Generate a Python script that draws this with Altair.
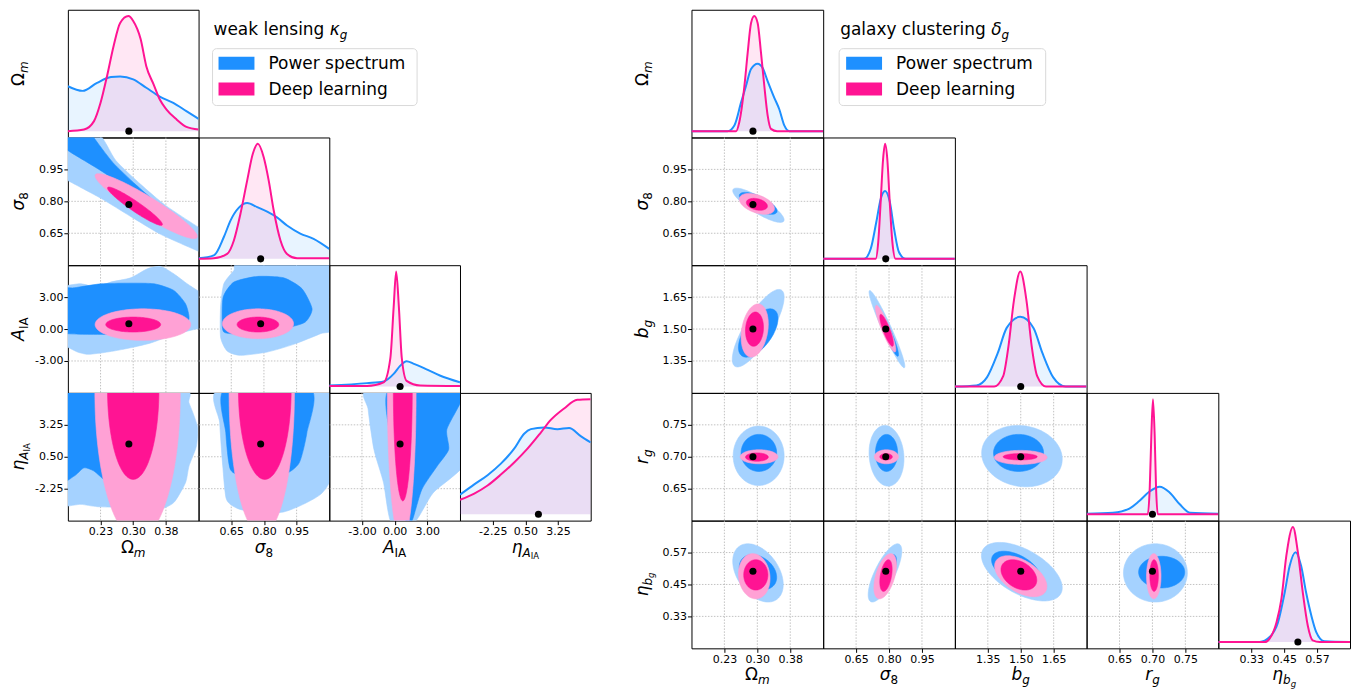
import numpy as np
import pandas as pd
import altair as alt

FONT = "DejaVu Sans"
BLUE = "#1E90FF"
BLUE_LIGHT = "#A5D2FF"
PINK = "#FF1493"
PINK_LIGHT = "#FFA1D5"
SERIES = ["Power spectrum", "Deep learning"]
SERIES_COLORS = [BLUE, PINK]
LEFT_TITLE = ["weak lensing ", "κ", "g"]
RIGHT_TITLE = ["galaxy clustering ", "δ", "g"]

# ---------------- left corner: weak lensing ----------------
L_PARAMS = ["Om", "s8", "AIA", "eta"]
L_DOMAIN = {"Om": [0.15, 0.45], "s8": [0.5, 1.1], "AIA": [-6.0, 6.0], "eta": [-5.0, 6.0]}
L_TICKS = {"Om": [0.225, 0.30, 0.375], "s8": [0.65, 0.80, 0.95],
           "AIA": [-3.0, 0.0, 3.0], "eta": [-2.25, 0.5, 3.25]}
L_TRUTH = {"Om": 0.29, "s8": 0.785, "AIA": 0.5, "eta": 1.6}

L_DIAG_PS = {
    "Om": ([0.15, 0.184, 0.217, 0.249, 0.27, 0.30, 0.33, 0.361, 0.392, 0.422, 0.45],
           [0.39, 0.35, 0.42, 0.47, 0.475, 0.45, 0.377, 0.30, 0.246, 0.174, 0.107]),
    "s8": ([0.5, 0.57, 0.616, 0.647, 0.685, 0.723, 0.769, 0.815, 0.86, 0.906, 0.967, 1.028, 1.1],
           [0.005, 0.03, 0.19, 0.335, 0.445, 0.485, 0.45, 0.41, 0.36, 0.29, 0.22, 0.174, 0.087]),
    "AIA": ([-6.0, -2.54, -1.0, -0.09, 0.5, 1.1, 1.71, 2.93, 4.15, 6.0],
            [0.01, 0.03, 0.045, 0.11, 0.18, 0.22, 0.2, 0.15, 0.096, 0.037]),
    "eta": ([-5.0, -3.8, -2.68, -1.56, -0.44, 0.4, 0.96, 2.08, 3.2, 4.18, 5.16, 6.0],
            [0.17, 0.26, 0.34, 0.44, 0.57, 0.70, 0.74, 0.755, 0.74, 0.75, 0.68, 0.625]),
}
L_DIAG_DL = {
    "Om": ([0.15, 0.187, 0.21, 0.225, 0.24, 0.255, 0.27, 0.289, 0.30, 0.317, 0.33, 0.347, 0.361, 0.376, 0.40, 0.422, 0.45],
           [0.0, 0.014, 0.087, 0.246, 0.48, 0.74, 0.94, 1.0, 0.957, 0.8, 0.565, 0.405, 0.275, 0.19, 0.10, 0.037, 0.014]),
    "s8": ([0.5, 0.57, 0.631, 0.662, 0.692, 0.723, 0.749, 0.772, 0.799, 0.822, 0.845, 0.876, 0.906, 0.952, 1.1],
           [0.0, 0.005, 0.043, 0.16, 0.39, 0.68, 0.913, 1.0, 0.883, 0.68, 0.42, 0.16, 0.043, 0.005, 0.005]),
    "AIA": ([-6.0, -2.54, -1.01, -0.39, -0.09, 0.14, 0.39, 0.65, 1.1, 2.34, 6.0],
            [0.005, 0.005, 0.037, 0.25, 0.69, 1.0, 0.69, 0.255, 0.05, 0.01, 0.005]),
    "eta": ([-5.0, -3.8, -2.68, -1.56, -0.44, 0.68, 1.8, 2.64, 3.76, 4.87, 6.0],
            [0.126, 0.18, 0.25, 0.345, 0.45, 0.57, 0.71, 0.82, 0.92, 0.995, 1.0]),
}

# Power-spectrum contours (irregular): outline vertices (col value, row value)
L_PS_95 = {
    ("s8", "Om"): [(0.111, 1.17), (0.215, 1.13), (0.26, 0.992), (0.317, 0.880), (0.374, 0.781), (0.45, 0.678),
                   (0.466, 0.664), (0.466, 0.547), (0.45, 0.565), (0.363, 0.645), (0.294, 0.729), (0.226, 0.814),
                   (0.15, 0.898), (0.122, 0.936)],
    ("AIA", "Om"): [(0.134, 3.94), (0.149, 4.09), (0.180, 4.25), (0.218, 3.94), (0.248, 4.41), (0.294, 4.81),
                    (0.3325, 5.66), (0.363, 5.88), (0.393, 5.19), (0.424, 4.25), (0.447, 3.63), (0.462, 3.31),
                    (0.462, 0.19), (0.447, 0.03), (0.416, -0.28), (0.378, -0.75), (0.340, -1.31), (0.302, -1.69),
                    (0.264, -2.0), (0.226, -2.25), (0.195, -2.37), (0.172, -2.16), (0.149, -1.69), (0.134, -1.53)],
    ("AIA", "s8"): [(0.601, 2.06), (0.616, 4.25), (0.662, 5.5), (0.692, 6.28), (1.059, 6.28), (1.12, 5.81),
                    (1.12, 0.19), (1.059, -0.44), (0.936, -1.44), (0.815, -2.16), (0.692, -2.47), (0.631, -2.06),
                    (0.601, -0.75)],
    ("eta", "Om"): [(0.134, 6.28), (0.4125, 6.28), (0.428, 5.14), (0.447, 3.14), (0.445, 1.42), (0.428, -0.3),
                    (0.420, -1.73), (0.393, -3.45), (0.355, -4.08), (0.287, -3.88), (0.218, -3.80), (0.180, -3.6),
                    (0.151, -3.74), (0.134, -3.74)],
    ("eta", "s8"): [(0.593, 6.28), (1.121, 6.28), (1.12, -0.59), (1.068, -2.6), (0.98, -3.6), (0.891, -4.25),
                    (0.785, -4.37), (0.681, -3.97), (0.628, -3.17), (0.611, -0.30), (0.597, 3.42)],
    ("eta", "AIA"): [(-2.43, 6.28), (6.73, 6.28), (6.73, 0.27), (3.55, -2.59), (1.80, -5.17), (-0.31, -5.17),
                     (-1.02, -1.73), (-1.9, 1.13), (-2.43, 4.57)],
}
L_PS_68 = {
    ("s8", "Om"): [(0.160, 1.125), (0.205, 1.125), (0.2095, 1.10), (0.253, 0.983), (0.305, 0.880),
                   (0.351, 0.796), (0.376, 0.740), (0.363, 0.692), (0.294, 0.772), (0.248, 0.912),
                   (0.15, 1.039), (0.14, 1.08)],
    ("AIA", "Om"): [(0.134, 3.63), (0.1645, 3.87), (0.226, 4.25), (0.287, 4.31), (0.348, 4.25), (0.393, 3.63),
                    (0.420, 2.37), (0.428, 0.97), (0.409, 0.03), (0.340, -0.38), (0.264, -0.5), (0.195, -0.5),
                    (0.149, -0.44), (0.134, -0.38)],
    ("AIA", "s8"): [(0.6085, 0.5), (0.613, 3.0), (0.662, 4.41), (0.769, 4.94), (0.891, 4.81), (0.975, 3.78),
                    (1.021, 1.9), (0.990, 0.66), (0.906, 0.12), (0.784, -0.19), (0.662, -0.44), (0.616, -0.28)],
    ("eta", "Om"): [(0.134, 6.28), (0.29, 6.28), (0.29, 1.0), (0.26, -1.55), (0.233, -1.45), (0.210, -0.73),
                    (0.187, -0.45), (0.1645, -1.16), (0.134, -1.3)],
    ("eta", "s8"): [(0.620, 6.28), (1.015, 6.28), (0.997, 2.56), (0.962, -0.02), (0.891, -1.02), (0.716, -1.16),
                    (0.646, -0.59), (0.625, 2.56)],
    ("eta", "AIA"): [(-0.49, 6.28), (6.02, 6.28), (6.02, 5.14), (4.79, 2.85), (4.96, 1.13), (3.91, -0.30),
                     (2.5, -2.31), (1.62, -4.97), (1.1, -5.17), (0.05, -1.73), (-0.49, 2.56)],
}
# Deep-learning contours: extent (x_lo, x_hi, y_lo, y_hi) and tilt (correlation)
L_DL_95 = {
    ("s8", "Om"): (0.2125, 0.447, 0.625, 0.930, -0.935),
    ("AIA", "Om"): (0.2125, 0.432, -1.06, 1.90, 0.0),
    ("AIA", "s8"): (0.609, 0.936, -0.9, 1.9, 0.0),
    ("eta", "Om"): (0.212, 0.408, -6.57, 18.57, 0.0),
    ("eta", "s8"): (0.64, 0.94, -6.2, 18.2, 0.0),
    ("eta", "AIA"): (-0.67, 1.97, -6.9, 18.9, 0.0),
}
L_DL_68 = {
    ("s8", "Om"): (0.241, 0.367, 0.687, 0.867, -0.95),
    ("AIA", "Om"): (0.237, 0.363, -0.28, 1.125, 0.0),
    ("AIA", "s8"): (0.677, 0.868, -0.28, 1.125, 0.0),
    ("eta", "Om"): (0.241, 0.359, -1.45, 14.05, 0.0),
    ("eta", "s8"): (0.683, 0.925, -1.45, 14.05, 0.0),
    ("eta", "AIA"): (-0.12, 1.62, -3.3, 16.3, 0.0),
}

# ---------------- right corner: galaxy clustering ----------------
R_PARAMS = ["Om", "s8", "bg", "rg", "eta"]
R_DOMAIN = {"Om": [0.15, 0.45], "s8": [0.5, 1.1], "bg": [1.2, 1.8], "rg": [0.6, 0.8], "eta": [0.21, 0.69]}
R_TICKS = {"Om": [0.225, 0.30, 0.375], "s8": [0.65, 0.80, 0.95], "bg": [1.35, 1.50, 1.65],
           "rg": [0.65, 0.70, 0.75], "eta": [0.33, 0.45, 0.57]}
R_TRUTH = {"Om": 0.29, "s8": 0.785, "bg": 1.5, "rg": 0.70, "eta": 0.5}

R_DIAG_PS = {
    "Om": ([0.15, 0.232, 0.2477, 0.263, 0.274, 0.2857, 0.3007, 0.312, 0.323, 0.3387, 0.35, 0.3614, 0.373, 0.45],
           [0.0, 0.0, 0.05, 0.25, 0.39, 0.54, 0.586, 0.55, 0.44, 0.29, 0.19, 0.05, 0.0, 0.0]),
    "s8": ([0.5, 0.686, 0.717, 0.742, 0.762, 0.782, 0.803, 0.823, 0.845, 0.876, 1.1],
           [0.0, 0.0, 0.09, 0.32, 0.52, 0.59, 0.50, 0.26, 0.06, 0.0, 0.0]),
    "bg": ([1.2, 1.298, 1.346, 1.395, 1.436, 1.498, 1.558, 1.599, 1.648, 1.705, 1.8],
           [0.0, 0.01, 0.08, 0.29, 0.51, 0.606, 0.51, 0.29, 0.08, 0.0, 0.0]),
    "rg": ([0.6, 0.64, 0.665, 0.680, 0.696, 0.711, 0.726, 0.7415, 0.757, 0.8],
           [0.005, 0.014, 0.05, 0.115, 0.2, 0.24, 0.19, 0.087, 0.014, 0.005]),
    "eta": ([0.21, 0.361, 0.397, 0.4275, 0.452, 0.47, 0.4917, 0.512, 0.53, 0.549, 0.567, 0.597, 0.69],
            [0.0, 0.0, 0.043, 0.17, 0.43, 0.66, 0.78, 0.66, 0.43, 0.23, 0.086, 0.006, 0.0]),
}
R_DIAG_DL = {
    "Om": ([0.15, 0.2516, 0.259, 0.2705, 0.278, 0.2857, 0.293, 0.3007, 0.3084, 0.316, 0.3234, 0.331, 0.345, 0.45],
           [0.0, 0.0, 0.08, 0.39, 0.68, 0.94, 1.0, 0.94, 0.68, 0.39, 0.14, 0.02, 0.0, 0.0]),
    "s8": ([0.5, 0.739, 0.751, 0.762, 0.773, 0.782, 0.792, 0.803, 0.815, 0.83, 1.1],
           [0.0, 0.0, 0.15, 0.5, 0.87, 1.0, 0.87, 0.5, 0.15, 0.0, 0.0]),
    "bg": ([1.2, 1.379, 1.42, 1.444, 1.469, 1.498, 1.526, 1.55, 1.575, 1.615, 1.8],
           [0.0, 0.0, 0.09, 0.35, 0.75, 1.0, 0.75, 0.35, 0.09, 0.0, 0.0]),
    "rg": ([0.6, 0.693, 0.696, 0.6983, 0.7008, 0.7034, 0.7054, 0.708, 0.8],
           [0.0, 0.0, 0.245, 0.68, 1.0, 0.68, 0.245, 0.0, 0.0]),
    "eta": ([0.21, 0.379, 0.397, 0.422, 0.44, 0.458, 0.482, 0.50, 0.518, 0.536, 0.554, 0.58, 0.69],
            [0.0, 0.0, 0.03, 0.17, 0.375, 0.75, 1.0, 0.78, 0.43, 0.144, 0.015, 0.0, 0.0]),
}
R_PS_95 = {
    ("s8", "Om"): (0.244, 0.361, 0.701, 0.862, -0.85),
    ("bg", "Om"): (0.243, 0.361, 1.322, 1.686, 0.8),
    ("bg", "s8"): (0.709, 0.872, 1.318, 1.681, -0.96),
    ("rg", "Om"): (0.245, 0.361, 0.655, 0.748, 0.0),
    ("rg", "s8"): (0.709, 0.868, 0.654, 0.749, -0.1),
    ("rg", "bg"): (1.322, 1.689, 0.653, 0.749, -0.1),
    ("eta", "Om"): (0.244, 0.359, 0.384, 0.603, -0.4),
    ("eta", "s8"): (0.705, 0.858, 0.384, 0.603, 0.75),
    ("eta", "bg"): (1.321, 1.689, 0.388, 0.608, -0.55),
    ("eta", "rg"): (0.656, 0.753, 0.384, 0.603, 0.0),
}
R_PS_68 = {
    ("s8", "Om"): (0.259, 0.345, 0.739, 0.842, -0.7),
    ("bg", "Om"): (0.257, 0.347, 1.368, 1.595, 0.6),
    ("bg", "s8"): (0.750, 0.843, 1.372, 1.588, -0.93),
    ("rg", "Om"): (0.263, 0.344, 0.677, 0.735, 0.0),
    ("rg", "s8"): (0.738, 0.839, 0.677, 0.735, 0.0),
    ("rg", "bg"): (1.376, 1.604, 0.677, 0.735, 0.0),
    ("eta", "Om"): (0.259, 0.344, 0.431, 0.562, -0.3),
    ("eta", "s8"): (0.735, 0.834, 0.42, 0.562, 0.7),
    ("eta", "bg"): (1.367, 1.589, 0.444, 0.575, -0.5),
    ("eta", "rg"): (0.679, 0.749, 0.437, 0.556, 0.0),
}
R_DL_95 = {
    ("s8", "Om"): (0.259, 0.339, 0.739, 0.837, -0.45),
    ("bg", "Om"): (0.263, 0.325, 1.368, 1.618, 0.25),
    ("bg", "s8"): (0.738, 0.831, 1.392, 1.611, -0.9),
    ("rg", "Om"): (0.261, 0.347, 0.689, 0.711, 0.0),
    ("rg", "s8"): (0.733, 0.843, 0.689, 0.711, 0.0),
    ("rg", "bg"): (1.379, 1.620, 0.688, 0.710, 0.0),
    ("eta", "Om"): (0.257, 0.329, 0.396, 0.566, -0.1),
    ("eta", "s8"): (0.731, 0.834, 0.396, 0.566, 0.5),
    ("eta", "bg"): (1.381, 1.619, 0.404, 0.558, -0.5),
    ("eta", "rg"): (0.691, 0.713, 0.396, 0.566, 0.0),
}
R_DL_68 = {
    ("s8", "Om"): (0.275, 0.323, 0.758, 0.814, -0.3),
    ("bg", "Om"): (0.273, 0.314, 1.419, 1.58, 0.1),
    ("bg", "s8"): (0.758, 0.820, 1.419, 1.569, -0.85),
    ("rg", "Om"): (0.273, 0.325, 0.693, 0.706, 0.0),
    ("rg", "s8"): (0.758, 0.815, 0.695, 0.705, 0.0),
    ("rg", "bg"): (1.42, 1.575, 0.695, 0.705, 0.0),
    ("eta", "Om"): (0.269, 0.324, 0.429, 0.543, 0.0),
    ("eta", "s8"): (0.758, 0.814, 0.424, 0.543, 0.4),
    ("eta", "bg"): (1.41, 1.573, 0.429, 0.543, -0.35),
    ("eta", "rg"): (0.696, 0.709, 0.424, 0.543, 0.0),
}

# axis label pieces: (text, font size, italic, baseline shift)
L_LABELS = {
    "Om": [("Ω", 17, False, 0), ("m", 12, True, 4)],
    "s8": [("σ", 17, True, 0), ("8", 12, False, 4)],
    "AIA": [("A", 17, True, 0), ("IA", 12, False, 4)],
    "eta": [("η", 17, True, 0), ("A", 12, True, 4), ("IA", 8.5, False, 6.5)],
}
R_LABELS = {
    "Om": [("Ω", 17, False, 0), ("m", 12, True, 4)],
    "s8": [("σ", 17, True, 0), ("8", 12, False, 4)],
    "bg": [("b", 17, True, 0), ("g", 12, True, 4)],
    "rg": [("r", 17, True, 0), ("g", 12, True, 4)],
    "eta": [("η", 17, True, 0), ("b", 12, True, 4), ("g", 8.5, True, 6.5)],
}

# ---------------- helpers ----------------
H = 128
W_L, W_R, GAP = 131, 132, 101
DIAG_DOMAIN = [-0.055, 1.055]
DUMMY = pd.DataFrame({"d": [0]})
CW = {" ": .318, "a": .613, "b": .635, "c": .550, "d": .635, "e": .615, "g": .635, "i": .278, "k": .579,
      "l": .278, "m": .974, "n": .634, "o": .612, "p": .635, "r": .411, "s": .521, "t": .392, "u": .634,
      "w": .818, "x": .592, "y": .592, "z": .525, "A": .684, "D": .770, "I": .295, "L": .557, "P": .603,
      "8": .636, "Ω": .764, "σ": .634, "η": .634, "κ": .580, "δ": .612}
NOFRAME = alt.ViewBackground(stroke="transparent")


def tw(s, size):
    return sum(CW.get(c, 0.6) for c in s) * size


def text_layer(t, size, italic, x, y, angle=0, baseline="alphabetic"):
    kw = dict(text=t, font=FONT, fontSize=size, align="left", baseline=baseline, color="black")
    if italic:
        kw["fontStyle"] = "italic"
    if angle:
        kw["angle"] = angle
    return alt.Chart(DUMMY).mark_text(**kw).encode(x=alt.value(x), y=alt.value(y))


def htitle(pieces, cx, base_y):
    total = sum(tw(t, s) for t, s, _, _ in pieces)
    x = cx - total / 2
    out = []
    for t, s, it, sh in pieces:
        out.append(text_layer(t, s, it, x, base_y + sh))
        x += tw(t, s)
    return out


def vtitle(pieces, base_x, cy):
    total = sum(tw(t, s) for t, s, _, _ in pieces)
    y = cy + total / 2
    out = []
    for t, s, it, sh in pieces:
        out.append(text_layer(t, s, it, base_x + sh, y, angle=270))
        y -= tw(t, s)
    return out


def make_axis(ticks):
    return alt.Axis(values=ticks, labelExpr="replace(format(datum.value, '.2f'), '\u2212', '-')",
                    title=None, grid=False, domain=False, ticks=True, tickSize=4, tickColor="black",
                    labelFont=FONT, labelFontSize=11, labelColor="black", labelPadding=1,
                    labelFlush=False, labelOverlap=False)


def ellipse_df(box, n=120):
    xlo, xhi, ylo, yhi, rho = box
    cx, cy = (xlo + xhi) / 2, (ylo + yhi) / 2
    sx, sy = (xhi - xlo) / 2, (yhi - ylo) / 2
    t = np.linspace(0, 2 * np.pi, n, endpoint=False)
    return pd.DataFrame({"x": cx + sx * np.cos(t),
                         "y": cy + sy * (rho * np.cos(t) + np.sqrt(1 - rho ** 2) * np.sin(t)),
                         "i": np.arange(n)})


def poly_df(pts):
    return pd.DataFrame({"x": [p[0] for p in pts], "y": [p[1] for p in pts], "i": list(range(len(pts)))})


def shape_layer(df, color, X, Y, interp):
    kw = dict(fill=color, stroke=color, strokeWidth=0.6, interpolate=interp, clip=True)
    if interp.startswith("cardinal"):
        kw["tension"] = 0.35
    return alt.Chart(df).mark_line(**kw).encode(x=X, y=Y, order=alt.Order("i:Q"))


def panel(i, j, params, dom, ticks, truth, labels, W, dps, ddl, c95, c68, d95, d68, poly):
    n = len(params)
    rp, cp = params[i], params[j]
    xs = alt.Scale(domain=dom[cp], nice=False, zero=False)
    xaxis = make_axis(ticks[cp]) if i == n - 1 else None
    layers = []
    if i == j:
        ys = alt.Scale(domain=DIAG_DOMAIN, nice=False, zero=False)
        X = alt.X("x:Q", scale=xs, axis=xaxis)
        Y = alt.Y("y:Q", scale=ys, axis=None)
        curves = [(dps[cp], BLUE), (ddl[cp], PINK)]
        for (xv, yv), col in curves:
            df = pd.DataFrame({"x": xv, "y": yv})
            layers.append(alt.Chart(df).mark_area(color=col, opacity=0.1, interpolate="monotone", clip=True)
                          .encode(x=X, y=Y, y2=alt.datum(0)))
        for (xv, yv), col in curves:
            df = pd.DataFrame({"x": xv, "y": yv})
            layers.append(alt.Chart(df).mark_line(color=col, strokeWidth=2, interpolate="monotone", clip=True)
                          .encode(x=X, y=Y))
        dot = pd.DataFrame({"x": [truth[cp]], "y": [0.0]})
    else:
        ys = alt.Scale(domain=dom[rp], nice=False, zero=False)
        yaxis = make_axis(ticks[rp]) if j == 0 else None
        X = alt.X("x:Q", scale=xs, axis=xaxis)
        Y = alt.Y("y:Q", scale=ys, axis=yaxis)
        grid_style = dict(color="#b3b3b3", strokeWidth=0.8, strokeDash=[1.5, 1.5])
        layers.append(alt.Chart(pd.DataFrame({"x": ticks[cp]})).mark_rule(**grid_style).encode(x=X))
        layers.append(alt.Chart(pd.DataFrame({"y": ticks[rp]})).mark_rule(**grid_style).encode(y=Y))
        key = (rp, cp)
        if poly:
            layers.append(shape_layer(poly_df(c95[key]), BLUE_LIGHT, X, Y, "cardinal-closed"))
            layers.append(shape_layer(poly_df(c68[key]), BLUE, X, Y, "cardinal-closed"))
        else:
            layers.append(shape_layer(ellipse_df(c95[key]), BLUE_LIGHT, X, Y, "linear-closed"))
            layers.append(shape_layer(ellipse_df(c68[key]), BLUE, X, Y, "linear-closed"))
        layers.append(shape_layer(ellipse_df(d95[key]), PINK_LIGHT, X, Y, "linear-closed"))
        layers.append(shape_layer(ellipse_df(d68[key]), PINK, X, Y, "linear-closed"))
        dot = pd.DataFrame({"x": [truth[cp]], "y": [truth[rp]]})
    layers.append(alt.Chart(dot).mark_circle(size=50, color="black", opacity=1).encode(x=X, y=Y))
    if j == 0:
        layers += vtitle(labels[rp], -44, H / 2)
    if i == n - 1:
        layers += htitle(labels[cp], W / 2, H + 32)
    return alt.layer(*layers).properties(width=W, height=H)


def legend_chart(title_parts, frame, patch_x, text_x, title_x, W):
    layers = []
    x = title_x
    for t, s, it, sh in [(title_parts[0], 17, False, 0), (title_parts[1], 17, True, 0),
                         (title_parts[2], 12, True, 4)]:
        layers.append(text_layer(t, s, it, x, 25 + sh))
        x += tw(t, s)
    layers.append(alt.Chart(DUMMY).mark_rect(fill="white", stroke="#d9d9d9", strokeWidth=1, cornerRadius=4)
                  .encode(x=alt.value(frame[0]), x2=alt.value(frame[1]),
                          y=alt.value(frame[2]), y2=alt.value(frame[3])))
    for k, (name, col) in enumerate(zip(SERIES, SERIES_COLORS)):
        y0 = 47 + 26 * k
        layers.append(alt.Chart(DUMMY).mark_rect(fill=col)
                      .encode(x=alt.value(patch_x), x2=alt.value(patch_x + 36),
                              y=alt.value(y0), y2=alt.value(y0 + 13)))
        layers.append(text_layer(name, 17, False, text_x, y0 + 7, baseline="middle"))
    return alt.layer(*layers).properties(width=W, height=H, view=NOFRAME)


def blank(W):
    return (alt.Chart(DUMMY).mark_point(opacity=0, size=1).encode(x=alt.value(W / 2), y=alt.value(H / 2))
            .properties(width=W, height=H, view=NOFRAME))


left_legend = legend_chart(LEFT_TITLE, (14, 219, 39, 96), 20, 70, 15, W_L)
right_legend = legend_chart(RIGHT_TITLE, (16, 223, 39, 96), 23, 73, 17, W_R)

NL, NR = len(L_PARAMS), len(R_PARAMS)
cells = []
for i in range(NR):
    for j in range(NL):
        if i < NL and j <= i:
            cells.append(panel(i, j, L_PARAMS, L_DOMAIN, L_TICKS, L_TRUTH, L_LABELS, W_L, L_DIAG_PS, L_DIAG_DL,
                               L_PS_95, L_PS_68, L_DL_95, L_DL_68, True))
        elif i == 0 and j == 1:
            cells.append(left_legend)
        else:
            cells.append(blank(W_L))
    cells.append(blank(GAP))
    for j in range(NR):
        if j <= i:
            cells.append(panel(i, j, R_PARAMS, R_DOMAIN, R_TICKS, R_TRUTH, R_LABELS, W_R, R_DIAG_PS, R_DIAG_DL,
                               R_PS_95, R_PS_68, R_DL_95, R_DL_68, False))
        elif i == 0 and j == 1:
            cells.append(right_legend)
        else:
            cells.append(blank(W_R))

chart = (alt.concat(*cells, columns=NL + 1 + NR, spacing=0, bounds="flush", align="each")
         .properties(padding={"left": 1, "top": 0, "right": 2, "bottom": 2})
         .configure(font=FONT)
         .configure_view(stroke="black", strokeWidth=1))

chart.save("out.html", embed_options={"renderer": "svg", "actions": False})
